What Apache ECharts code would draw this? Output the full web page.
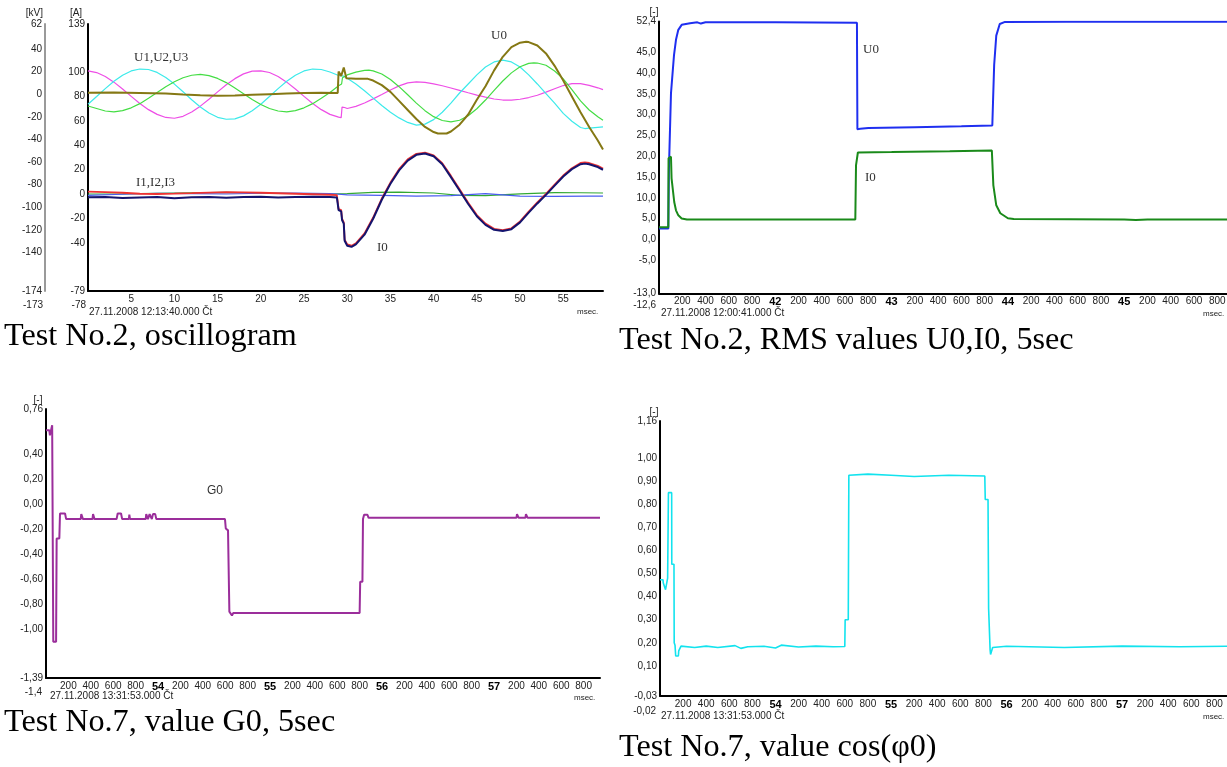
<!DOCTYPE html>
<html><head><meta charset="utf-8">
<script src="https://cdn.jsdelivr.net/npm/echarts@6/dist/echarts.min.js"></script>
<style>html,body{margin:0;padding:0;background:#fff}#c{width:1227px;height:767px}</style>
</head><body><div id="c"></div>
<script>
// ---------- Tick labels ----------
const TL_X_TICKS = [5,10,15,20,25,30,35,40,45,50,55];
const TL_A_TICKS = [139,100,80,60,40,20,0,-20,-40,-79];
const TL_KV_TICKS = [62,40,20,0,-20,-40,-60,-80,-100,-120,-140,-174];
const TR_Y_TICKS = [52.4,45,40,35,30,25,20,15,10,5,0,-5,-13];
const BL_Y_TICKS = [0.76,0.40,0.20,0,-0.20,-0.40,-0.60,-0.80,-1.00,-1.39];
const BR_Y_TICKS = [1.16,1.00,0.90,0.80,0.70,0.60,0.50,0.40,0.30,0.20,0.10,-0.03];
const MS_TICKS = [200,400,600,800,1000,1200,1400,1600,1800,2000,2200,2400,2600,2800,3000,3200,3400,3600,3800,4000,4200,4400,4600,4800];

// ---------- Test No.2 oscillogram: time [ms], U in kV, I in A ----------
const TL_U1 = [[0,20.5],[1,19.1],[2,15.6],[3,10.6],[4,4.5],[5,-2.0],[6,-8.3],[7,-13.7],[8,-17.9],[9,-20.6],[10,-21.3],[11,-19.6],[12,-15.8],[13,-10.6],[14,-4.5],[15,2.0],[16,8.3],[17,13.7],[18,17.9],[19,20.3],[20,20.6],[21,19.1],[22,15.6],[23,10.6],[24,4.5],[25,-2.0],[26,-8.3],[27,-13.7],[28,-17.9],[29,-20.3],[29.3,-20.8],[29.4,-11.5],[29.7,-11.8],[30,-12.7],[31,-10.8],[32,-7.8],[33,-4.2],[34,-0.3],[35,3.7],[36,7.3],[37,10.0],[38,10.9],[39,10.4],[40,9.1],[41,7.4],[42,5.4],[43,3.3],[44,1.2],[45,-0.8],[46,-2.7],[47,-4.3],[48,-5.2],[49,-5.3],[50,-4.5],[51,-3.0],[52,-1.0],[53,1.8],[54,4.8],[55,7.6],[56,9.3],[57,9.3],[58,7.8],[59,5.6],[59.6,4.0]];
const TL_U2 = [[0,-8.9],[1,-2.1],[2,4.9],[3,11.4],[4,16.7],[5,20.5],[6,22.2],[7,21.8],[8,19.2],[9,14.7],[10,8.9],[11,2.1],[12,-4.9],[13,-11.4],[14,-16.7],[15,-20.5],[16,-22.2],[17,-21.8],[18,-19.2],[19,-14.7],[20,-8.9],[21,-2.1],[22,4.9],[23,11.4],[24,16.7],[25,20.5],[26,22.2],[27,21.8],[28,19.6],[29,16.5],[29.6,15.9],[30,14],[31,9],[32,3],[33,-3.5],[34,-10],[35,-16],[36,-21],[37,-25],[38,-27.4],[39,-26.5],[40,-22.5],[41,-16],[42,-8],[43,1],[44,9],[45,17],[46,24],[47,28.5],[48,30.1],[49,28.5],[50,24],[51,17],[52,9],[53,0.5],[54,-8],[55,-17],[56,-24],[57,-29.5],[57.5,-30.4],[58,-30],[59,-29.3],[59.6,-28.9]];
const TL_U3 = [[0,-10.5],[1,-12.7],[2,-14.9],[3,-15.6],[4,-14.6],[5,-12.1],[6,-8.4],[7,-3.7],[8,1.4],[9,6.5],[10,11.0],[11,14.5],[12,16.7],[13,17.4],[14,16.4],[15,13.9],[16,10.2],[17,5.5],[18,0.4],[19,-4.7],[20,-9.2],[21,-12.7],[22,-14.9],[23,-15.6],[24,-14.6],[25,-12.1],[26,-8.4],[27,-3.7],[28,1.4],[29,7.5],[29.35,9],[29.45,14.5],[30,17],[31,19.5],[32,21],[32.5,21.2],[33,20.6],[34,17.8],[35,13.0],[36,6.6],[37,-0.5],[38,-7.9],[39,-14.6],[40,-19.9],[41,-23.3],[42,-24.5],[43,-23.1],[44,-19.1],[45,-12.9],[46,-5.2],[47,3.3],[48,11.6],[49,18.8],[50,24.2],[51,27.2],[51.6,27.7],[52,27.5],[53,25.5],[54,20.5],[55,13.5],[56,4],[57,-6],[58,-14],[59,-20],[59.6,-23]];
const TL_U0 = [[0,1.3],[3,1.4],[6,1.1],[9,0.6],[11,-0.3],[13,-1.0],[15,-1.5],[17,-1.2],[19,-0.6],[21,0.0],[23,0.6],[25,1.0],[27,1.2],[28.9,1.0],[29.0,20],[29.2,21],[29.3,16],[29.5,16.5],[29.6,23.5],[29.8,23],[29.9,14],[31,13.6],[32.4,13.5],[33,12],[34,8],[35,2],[36,-6],[37,-14],[38,-22],[39,-29],[40,-33.5],[40.5,-34.8],[41.5,-34.8],[42,-33],[43,-27],[44,-18],[45,-5],[46,7],[47,21],[48,33],[49,41.5],[50,45.5],[50.7,46.3],[51,46],[52,43],[53,36],[54,25],[55,12],[56,-2],[57,-16],[58,-29],[59,-41],[59.6,-49]];
const TL_I1 = [[0,2.2],[2,1.8],[4,1.2],[6,0.4],[8,0.2],[10,0.5],[12,0.9],[14,1.4],[16,1.8],[18,1.6],[20,1.2],[22,0.8],[24,0.4],[26,0],[28,-0.4],[28.8,-0.8],[29.0,-12],[29.3,-13],[29.4,-20],[29.6,-23],[29.7,-37],[30,-41],[30.5,-42],[31,-40],[32,-32],[33,-19],[34,-3.5],[35,9.5],[36,20.5],[37,28.5],[38,33],[39,34],[40,31.8],[41,25.3],[42,15],[43,4],[44,-7],[45,-17],[46,-24],[47,-28.2],[48,-29.3],[49,-27.8],[50,-22.2],[51,-14.2],[52,-6.7],[53,0.3],[54,7.8],[55,15.3],[56,21.3],[57,25.5],[57.5,26],[58,25.5],[59,23.2],[59.6,21]];
const TL_I2 = [[0,0.2],[4,0.3],[8,0.8],[12,1.2],[16,1.5],[20,1.0],[24,0.6],[28,0.2],[30,0.5],[33,1.5],[36,1.8],[40,1.0],[43,-1.0],[46,-1.2],[50,0.3],[54,1.3],[57,1.2],[59.6,1.0]];
const TL_I3 = [[0,-1],[4,0],[8,0.8],[12,0.5],[16,0.2],[20,0.8],[24,1.0],[28,0.6],[30,-0.5],[34,-1.0],[38,-1.5],[42,-1.2],[46,0.5],[50,-1.5],[54,-1.8],[58,-1.6],[59.6,-1.5]];
const TL_I0 = [[0,-2.5],[2,-2.2],[4,-3.0],[6,-2.6],[8,-2.2],[10,-3.2],[12,-2.4],[14,-2.2],[16,-2.8],[18,-2.3],[20,-2.0],[22,-2.6],[24,-2.2],[26,-2.0],[28,-2.3],[28.8,-2.6],[29.0,-13],[29.3,-14],[29.4,-21],[29.6,-24],[29.7,-38],[30,-42],[30.5,-43],[31,-41],[32,-33],[33,-20],[34,-4.5],[35,8.5],[36,19.5],[37,27.5],[38,32.2],[39,33.3],[40,31],[41,24.5],[42,14],[43,3],[44,-8],[45,-18],[46,-25],[47,-29],[48,-30],[49,-28.5],[50,-23],[51,-15],[52,-7.5],[53,-0.5],[54,7],[55,14.5],[56,20.5],[57,24.5],[57.5,25],[58,24.5],[59,22.2],[59.6,20]];

// ---------- Test No.2 RMS (ms after 41.000 s) ----------
const TR_U0 = [[0,2.6],[80,2.6],[85,16.6],[103,35.1],[120,35.3],[129,44.3],[146,48],[166,50.4],[195,51.6],[267,52.0],[330,52.2],[360,51.9],[400,52.2],[1000,52.2],[1702,52.1],[1706,26.5],[1730,26.6],[1800,26.8],[2200,27.0],[2600,27.2],[2866,27.4],[2872,33],[2882,42],[2900,49],[2930,51.8],[2975,52.3],[3500,52.35],[4884,52.35]];
const TR_I0 = [[0,2.9],[80,2.9],[82,19.5],[103,19.9],[108,14.7],[121,14.6],[131,9.0],[146,7.0],[166,5.8],[195,5.05],[240,4.8],[1688,4.8],[1694,17.8],[1710,20.9],[2000,21.0],[2500,21.2],[2862,21.4],[2875,13],[2900,8.2],[2935,6.3],[3000,5.1],[3050,4.9],[4000,4.8],[4100,4.7],[4200,4.8],[4884,4.8]];

// ---------- Test No.7 G0 (ms after 53.000 s) ----------
const BL_G0 = [[0,0.59],[30,0.59],[35,0.55],[50,0.55],[55,0.63],[62,0.63],[65,-1.10],[90,-1.10],[95,-0.275],[119,-0.275],[125,-0.075],[170,-0.075],[180,-0.12],[310,-0.12],[315,-0.08],[325,-0.08],[330,-0.12],[415,-0.12],[420,-0.08],[428,-0.08],[433,-0.12],[630,-0.12],[640,-0.075],[670,-0.075],[680,-0.12],[740,-0.12],[744,-0.085],[750,-0.12],[890,-0.12],[895,-0.08],[905,-0.08],[910,-0.12],[925,-0.08],[935,-0.08],[945,-0.12],[955,-0.08],[975,-0.08],[985,-0.12],[1598,-0.12],[1605,-0.195],[1625,-0.21],[1637,-0.86],[1650,-0.87],[1660,-0.89],[1672,-0.87],[2800,-0.87],[2805,-0.62],[2825,-0.62],[2830,-0.12],[2840,-0.085],[2870,-0.085],[2880,-0.11],[4200,-0.11],[4205,-0.08],[4215,-0.08],[4220,-0.11],[4280,-0.11],[4285,-0.08],[4295,-0.08],[4300,-0.11],[4946,-0.11]];

// ---------- Test No.7 cos(phi0) (ms after 53.000 s) ----------
const BR_COS = [[0,0.473],[26,0.473],[28,0.46],[45,0.46],[48,0.43],[63,0.43],[66,0.48],[72,0.48],[73,0.85],[101,0.85],[102,0.54],[121,0.54],[123,0.20],[130,0.19],[136,0.143],[159,0.143],[162,0.165],[175,0.165],[182,0.186],[300,0.18],[400,0.186],[500,0.18],[650,0.188],[700,0.176],[760,0.183],[900,0.185],[1000,0.178],[1050,0.19],[1200,0.182],[1350,0.186],[1500,0.183],[1600,0.184],[1603,0.30],[1630,0.30],[1635,0.925],[1800,0.93],[2000,0.925],[2200,0.92],[2500,0.925],[2812,0.922],[2816,0.82],[2840,0.82],[2845,0.35],[2858,0.17],[2862,0.15],[2875,0.15],[2880,0.18],[3000,0.185],[3500,0.18],[4000,0.186],[4500,0.183],[4909,0.185]];

// ---------- Chart ----------
const SANS = "'Liberation Sans',Arial,sans-serif";
const SERIF = "'Liberation Serif','Times New Roman',serif";
const LBL = {fontFamily: SANS, fontSize: 10, color: '#222'};

function msFmt(base) {
  return v => (v % 1000 === 0) ? '{b|' + (base + v / 1000) + '}' : String(v % 1000);
}
const RICH = {b: {fontFamily: SANS, fontSize: 11, fontWeight: 'bold', color: '#000'}};
const comma = d => v => v.toFixed(d).replace('.', ',');

function yAx(grid, min, max, ticks, fmt, extra) {
  return Object.assign({
    type: 'value', gridIndex: grid, min: min, max: max,
    axisLine: {show: true, onZero: false, lineStyle: {color: '#000', width: 2}},
    axisTick: {show: false}, splitLine: {show: false},
    axisLabel: Object.assign({customValues: ticks, margin: 3, formatter: fmt}, LBL)
  }, extra || {});
}
function xAx(grid, min, max, ticks, fmt) {
  return {
    type: 'value', gridIndex: grid, min: min, max: max,
    axisLine: {show: true, onZero: false, lineStyle: {color: '#000', width: 2}},
    axisTick: {show: false}, splitLine: {show: false},
    axisLabel: Object.assign({customValues: ticks, margin: 3, formatter: fmt, rich: RICH}, LBL)
  };
}
function line(name, data, xi, yi, color, w) {
  return {name: name, type: 'line', data: data, xAxisIndex: xi, yAxisIndex: yi,
    showSymbol: false, symbol: 'none', lineStyle: {color: color, width: w}, itemStyle: {color: color}};
}
function txt(x, y, s, font, align, fill) {
  return {type: 'text', x: x, y: y, silent: true,
    style: {text: s, font: font, fill: fill || '#222', textAlign: align || 'left', textVerticalAlign: 'middle'}};
}
const F10 = "10px " + SANS;
const FCAP = "32.2px " + SERIF;
const FSER = "13px " + SERIF;

const chart = echarts.init(document.getElementById('c'), null, {renderer: 'canvas'});
chart.setOption({
  animation: false,
  backgroundColor: '#fff',
  grid: [
    {left: 88, top: 24, width: 515, height: 267, outerBoundsMode: 'none'},
    {left: 659, top: 21.5, width: 568, height: 272, outerBoundsMode: 'none'},
    {left: 46, top: 409, width: 554, height: 269, outerBoundsMode: 'none'},
    {left: 660, top: 421, width: 567, height: 275, outerBoundsMode: 'none'}
  ],
  xAxis: [
    xAx(0, 0, 59.6, TL_X_TICKS, v => String(v)),
    xAx(1, 0, 4884, MS_TICKS, msFmt(41)),
    xAx(2, 0, 4946, MS_TICKS, msFmt(53)),
    xAx(3, 0, 4909, MS_TICKS, msFmt(53))
  ],
  yAxis: [
    yAx(0, -79, 139, TL_A_TICKS, v => String(v)),
    yAx(0, -174, 62, TL_KV_TICKS, v => String(v), {position: 'left', offset: 43,
      axisLine: {show: true, onZero: false, lineStyle: {color: '#9a9a9a', width: 2}}}),
    yAx(1, -13, 52.4, TR_Y_TICKS, comma(1)),
    yAx(2, -1.39, 0.76, BL_Y_TICKS, comma(2)),
    yAx(3, -0.03, 1.16, BR_Y_TICKS, comma(2))
  ],
  series: [
    line('U1', TL_U1, 0, 1, '#ee4ee6', 1.2),
    line('U2', TL_U2, 0, 1, '#3ceaea', 1.2),
    line('U3', TL_U3, 0, 1, '#44dd44', 1.2),
    line('I2', TL_I2, 0, 0, '#33a833', 1.2),
    line('I3', TL_I3, 0, 0, '#4a5cf0', 1.2),
    line('I1', TL_I1, 0, 0, '#ee3333', 1.8),
    line('I0', TL_I0, 0, 0, '#14146e', 2),
    line('U0', TL_U0, 0, 1, '#857814', 2),
    line('U0 RMS', TR_U0, 1, 2, '#1f2ff0', 2),
    line('I0 RMS', TR_I0, 1, 2, '#1a8a1a', 2),
    line('G0', BL_G0, 2, 3, '#9b2e9b', 2),
    line('cos phi0', BR_COS, 3, 4, '#12e3ee', 1.6)
  ],
  graphic: [
    // top-left
    txt(43, 13, '[kV]', F10, 'right'),
    txt(76, 13, '[A]', F10, 'center'),
    txt(43, 305, '-173', F10, 'right'),
    txt(86, 305, '-78', F10, 'right'),
    txt(89, 312, '27.11.2008 12:13:40.000 Čt', F10, 'left'),
    txt(577, 312, 'msec.', "8px " + SANS, 'left'),
    txt(134, 58, 'U1,U2,U3', FSER, 'left', '#333'),
    txt(136, 183, 'I1,I2,I3', FSER, 'left', '#333'),
    txt(491, 36, 'U0', FSER, 'left', '#333'),
    txt(377, 248, 'I0', FSER, 'left', '#333'),
    txt(4, 337, 'Test No.2, oscillogram', FCAP, 'left', '#000'),
    // top-right
    txt(654, 12, '[-]', F10, 'center'),
    txt(656, 305, '-12,6', F10, 'right'),
    txt(661, 313, '27.11.2008 12:00:41.000 Čt', F10, 'left'),
    txt(1203, 314, 'msec.', "8px " + SANS, 'left'),
    txt(863, 50, 'U0', FSER, 'left', '#333'),
    txt(865, 178, 'I0', FSER, 'left', '#333'),
    txt(619, 341, 'Test No.2, RMS values U0,I0, 5sec', FCAP, 'left', '#000'),
    // bottom-left
    txt(38, 400, '[-]', F10, 'center'),
    txt(42, 692, '-1,4', F10, 'right'),
    txt(50, 696, '27.11.2008 13:31:53.000 Čt', F10, 'left'),
    txt(574, 698, 'msec.', "8px " + SANS, 'left'),
    txt(207, 491, 'G0', "12px " + SANS, 'left', '#333'),
    txt(4, 723, 'Test No.7, value G0, 5sec', FCAP, 'left', '#000'),
    // bottom-right
    txt(654, 412, '[-]', F10, 'center'),
    txt(656, 711, '-0,02', F10, 'right'),
    txt(661, 716, '27.11.2008 13:31:53.000 Čt', F10, 'left'),
    txt(1203, 717, 'msec.', "8px " + SANS, 'left'),
    txt(619, 748, 'Test No.7, value cos(φ0)', FCAP, 'left', '#000')
  ]
});
</script></body></html>
